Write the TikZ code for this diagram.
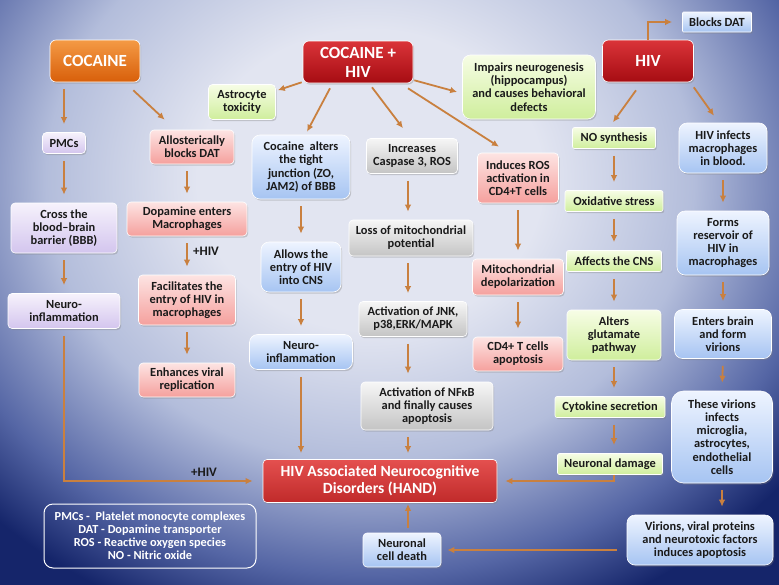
\documentclass[tikz,border=0pt]{standalone}
\usepackage{fontspec}
\setmainfont{Carlito}
\usetikzlibrary{shadows,arrows.meta,calc}
\definecolor{bgA}{HTML}{E2E5F1}
\definecolor{bgM}{HTML}{B3BDDB}
\definecolor{bgN}{HTML}{5566A5}
\definecolor{bgD}{HTML}{15256A}
\definecolor{txt}{HTML}{1A1A1A}
\definecolor{arrC}{HTML}{C9803F}
\definecolor{lavT}{HTML}{F6F2FC}
\definecolor{lavB}{HTML}{D3C5EE}
\definecolor{pnkT}{HTML}{FDE4E3}
\definecolor{pnkB}{HTML}{F5A09D}
\definecolor{bluT}{HTML}{EEF4FF}
\definecolor{bluB}{HTML}{A6C4F2}
\definecolor{gryT}{HTML}{F6F6F6}
\definecolor{gryB}{HTML}{C4C4C4}
\definecolor{grnT}{HTML}{F7FDE6}
\definecolor{grnB}{HTML}{CFEE9C}
\definecolor{orT}{HTML}{F49A45}
\definecolor{orB}{HTML}{D85F0A}
\definecolor{rdT}{HTML}{DA3439}
\definecolor{rdB}{HTML}{A60C12}
\definecolor{hdT}{HTML}{E4504F}
\definecolor{hdB}{HTML}{C02A2A}
\pgfdeclareradialshading{bgsh}{\pgfpoint{0bp}{0bp}}{color(0bp)=(bgA); color(8bp)=(bgA); color(15bp)=(bgM); color(21bp)=(bgN); color(25bp)=(bgD); color(50bp)=(bgD)}
\tikzset{
  box/.style={rounded corners=4pt, draw=white, line width=0.6pt, align=center, text=txt,
    font=\bfseries\fontsize{12.4}{13.2}\selectfont, inner sep=1pt,
    drop shadow={shadow xshift=1.2pt, shadow yshift=-1.6pt, opacity=.35}},
  lav/.style={box, top color=lavT, bottom color=lavB},
  pnk/.style={box, top color=pnkT, bottom color=pnkB},
  blu/.style={box, rounded corners=8pt, top color=bluT, bottom color=bluB},
  gry/.style={box, top color=gryT, bottom color=gryB},
  grn/.style={box, top color=grnT, bottom color=grnB},
  hdr/.style={box, text=white, font=\bfseries\fontsize{17}{19}\selectfont, rounded corners=6pt},
  arr/.style={draw=arrC, line width=1.8pt, -{Latex[length=7pt,width=6.5pt]}, shorten <=7pt, shorten >=8pt},
  arrd/.style={arr, shorten <=0pt, shorten >=0pt},
  lbl/.style={font=\bfseries\fontsize{13}{14}\selectfont, text=txt},
}
\begin{document}
\begin{tikzpicture}[x=1pt,y=-1pt]
\useasboundingbox (0,0) rectangle (779,584);
\fill[bgD] (-3,-3) rectangle (782,587);
\begin{scope}
\clip (-3,-3) rectangle (782,587);
\shade[shading=bgsh] (370,180) ellipse [x radius=540, y radius=470];
\end{scope}

% headers
\node[hdr, top color=orT, bottom color=orB, minimum width=90, minimum height=42] (coc) at (95,61) {COCAINE};
\node[hdr, top color=rdT, bottom color=rdB, minimum width=110, minimum height=42] (cochiv) at (358,62) {COCAINE +\\HIV};
\node[hdr, top color=rdT, bottom color=rdB, minimum width=91, minimum height=42] (hiv) at (648,61) {HIV};
\node[blu, rounded corners=1pt, minimum width=69, minimum height=20] (blocks) at (717,22) {Blocks DAT};

% column coordinates
\coordinate (colx) at (408,0);
\coordinate (colg) at (614,0);

% left
\node[lav, minimum width=43, minimum height=21] (pmcs) at (64,143) {PMCs};
\node[lav, minimum width=106, minimum height=50] (cross) at (64,228) {Cross the\\blood–brain\\barrier (BBB)};
\node[lav, minimum width=112, minimum height=35] (neuroL) at (64,311) {Neuro-\\inflammation};
\node[pnk, minimum width=84, minimum height=34] (allo) at (192,147) {Allosterically\\blocks DAT};
\node[pnk, minimum width=120, minimum height=34] (dopa) at (187,219) {Dopamine enters\\Macrophages};
\node[pnk, minimum width=97, minimum height=50] (facil) at (187,300) {Facilitates the\\entry of HIV in\\macrophages};
\node[pnk, minimum width=96, minimum height=34] (enh) at (187,380) {Enhances viral\\replication};

% middle
\node[grn, minimum width=67, minimum height=35] (astro) at (242,102) {Astrocyte\\toxicity};
\node[blu, minimum width=98, minimum height=64] (alters) at (301,167) {Cocaine\ \ alters\\the tight\\junction (ZO,\\JAM2) of BBB};
\node[blu, minimum width=80, minimum height=50] (allows) at (301,267) {Allows the\\entry of HIV\\into CNS};
\node[blu, minimum width=103, minimum height=35] (neuroM) at (301,352) {Neuro-\\inflammation};
\node[gry, minimum width=91, minimum height=35] (incr) at (412,156) {Increases\\Caspase 3, ROS};
\node[gry, minimum width=124, minimum height=36] (loss) at (411,238) {Loss of mitochondrial\\potential};
\node[gry, minimum width=108, minimum height=35] (jnk) at (413,319) {Activation of JNK,\\p38,ERK/MAPK};
\node[gry, minimum width=132, minimum height=48] (nfkb) at (427,406) {Activation of NFκB\\and finally causes\\apoptosis};
\node[pnk, minimum width=81, minimum height=50] (induces) at (518,178) {Induces ROS\\activation in\\CD4+T cells};
\node[pnk, minimum width=91, minimum height=36] (mito) at (518,277) {Mitochondrial\\depolarization};
\node[pnk, minimum width=90, minimum height=34] (cd4) at (518,354) {CD4+ T cells\\apoptosis};
\node[grn, rounded corners=8pt, minimum width=133, minimum height=64] (impairs) at (529,87) {Impairs neurogenesis\\(hippocampus)\\and causes behavioral\\defects};

% right
\node[grn, rounded corners=2pt, minimum width=83, minimum height=21] (nosyn) at (614,138) {NO synthesis};
\node[grn, rounded corners=2pt, minimum width=98, minimum height=21] (oxid) at (614,201) {Oxidative stress};
\node[grn, rounded corners=2pt, minimum width=95, minimum height=21] (affects) at (614,261) {Affects the CNS};
\node[grn, minimum width=94, minimum height=50] (glut) at (614,335) {Alters\\glutamate\\pathway};
\node[grn, rounded corners=2pt, minimum width=110, minimum height=21] (cyto) at (610,407) {Cytokine secretion};
\node[grn, rounded corners=2pt, minimum width=105, minimum height=21] (ndam) at (610,464) {Neuronal damage};
\node[blu, minimum width=88, minimum height=50] (hivinf) at (723,148) {HIV infects\\macrophages\\in blood.};
\node[blu, minimum width=92, minimum height=64] (forms) at (723,243) {Forms\\reservoir of\\HIV in\\macrophages};
\node[blu, minimum width=97, minimum height=49] (enters) at (723,334) {Enters brain\\and form\\virions};
\node[blu, rounded corners=12pt, minimum width=101, minimum height=92] (these) at (722,437) {These virions\\infects\\microglia,\\astrocytes,\\endothelial\\cells};
\node[blu, minimum width=146, minimum height=50] (virions) at (700,540) {Virions, viral proteins\\and neurotoxic factors\\induces apoptosis};

% bottom
\node[box, top color=hdT, bottom color=hdB, text=white, font=\bfseries\fontsize{15.6}{17}\selectfont, minimum width=234, minimum height=43] (hand) at (380,481) {HIV Associated Neurocognitive\\Disorders (HAND)};
\node[blu, rounded corners=4pt, minimum width=78, minimum height=34] (ncd) at (402,550) {Neuronal\\cell death};
\node[draw=white, line width=1pt, rounded corners=9pt, minimum width=212, minimum height=64, text=white, align=center, font=\bfseries\fontsize{12.3}{13}\selectfont] (legend) at (150,536) {PMCs -\ \ Platelet monocyte complexes\\DAT - Dopamine transporter\\ROS - Reactive oxygen species\\NO - Nitric oxide};

\node[lbl] (plus1) at (206,251) {+HIV};
\node[lbl] (plus2) at (204,472) {+HIV};

% arrows: cocaine
\draw[arr] (pmcs.north |- coc.south) -- (pmcs.north);
\draw[arrd] ($(coc.south east)+(-7,8)$) -- ($(allo.north west)+(15,-10)$);
\draw[arr] (pmcs.south) -- (cross.north);
\draw[arr] (cross.south) -- (neuroL.north);
\draw[arr, shorten >=10pt] (neuroL.south) |- (hand.west);
\draw[arr] (dopa.north |- allo.south) -- (dopa.north);
\draw[arr] (dopa.south) -- (facil.north);
\draw[arr] (facil.south) -- (enh.north);

% arrows: cocaine + hiv
\draw[arrd] ($(cochiv.south west)+(-1,-1)$) -- ($(astro.north east)+(2,6)$);
\draw[arrd] ($(cochiv.south)+(-28,5)$) -- ($(alters.north)+(6,-3)$);
\draw[arrd] ($(cochiv.south)+(14,4)$) -- ($(incr.north)+(-9,-10)$);
\draw[arrd] ($(cochiv.south)+(50,5)$) -- ($(induces.north)+(-19,-6)$);
\draw[arrd] ($(cochiv.south east)+(1,-3)$) -- ($(impairs.west)+(-5,5)$);
\draw[arr] (alters.south) -- (allows.north);
\draw[arr] (allows.south) -- (neuroM.north);
\draw[arr, shorten >=6pt] (neuroM.south) -- (neuroM.south |- hand.north);
\draw[arr] (colx |- incr.south) -- (colx |- loss.north);
\draw[arr] (colx |- loss.south) -- (colx |- jnk.north);
\draw[arr] (colx |- jnk.south) -- (colx |- nfkb.north);
\draw[arr, shorten >=6pt] (colx |- nfkb.south) -- (colx |- hand.north);
\draw[arr] (induces.south) -- (mito.north);
\draw[arr] (mito.south) -- (cd4.north);

% arrows: hiv
\draw[arr, shorten <=0pt, shorten >=10pt] (hiv.north) |- (blocks.west);
\draw[arrd] ($(hiv.south)+(-12,8)$) -- ($(nosyn.north)+(-1,-5)$);
\draw[arrd] ($(hiv.south east)+(0,5)$) -- ($(hivinf.north)+(-9,-7)$);
\draw[arr] (nosyn.south) -- (oxid.north);
\draw[arr] (oxid.south) -- (affects.north);
\draw[arr] (affects.south) -- (glut.north);
\draw[arr] (glut.south) -- (colg |- cyto.north);
\draw[arr] (colg |- cyto.south) -- (colg |- ndam.north);
\draw[arr, shorten <=0pt, shorten >=8pt] (colg |- ndam.south) |- (hand.east);
\draw[arr] (hivinf.south) -- (forms.north);
\draw[arr] (forms.south) -- (enters.north);
\draw[arr] (enters.south) -- (these.north);
\draw[arr] (these.south) -- (these.south |- virions.north);
\draw[arr, shorten <=10pt, shorten >=6pt] (virions.west |- ncd.east) -- (ncd.east);
\draw[arr, shorten <=5pt, shorten >=1pt] (colx |- ncd.north) -- (colx |- hand.south);
\end{tikzpicture}
\end{document}
